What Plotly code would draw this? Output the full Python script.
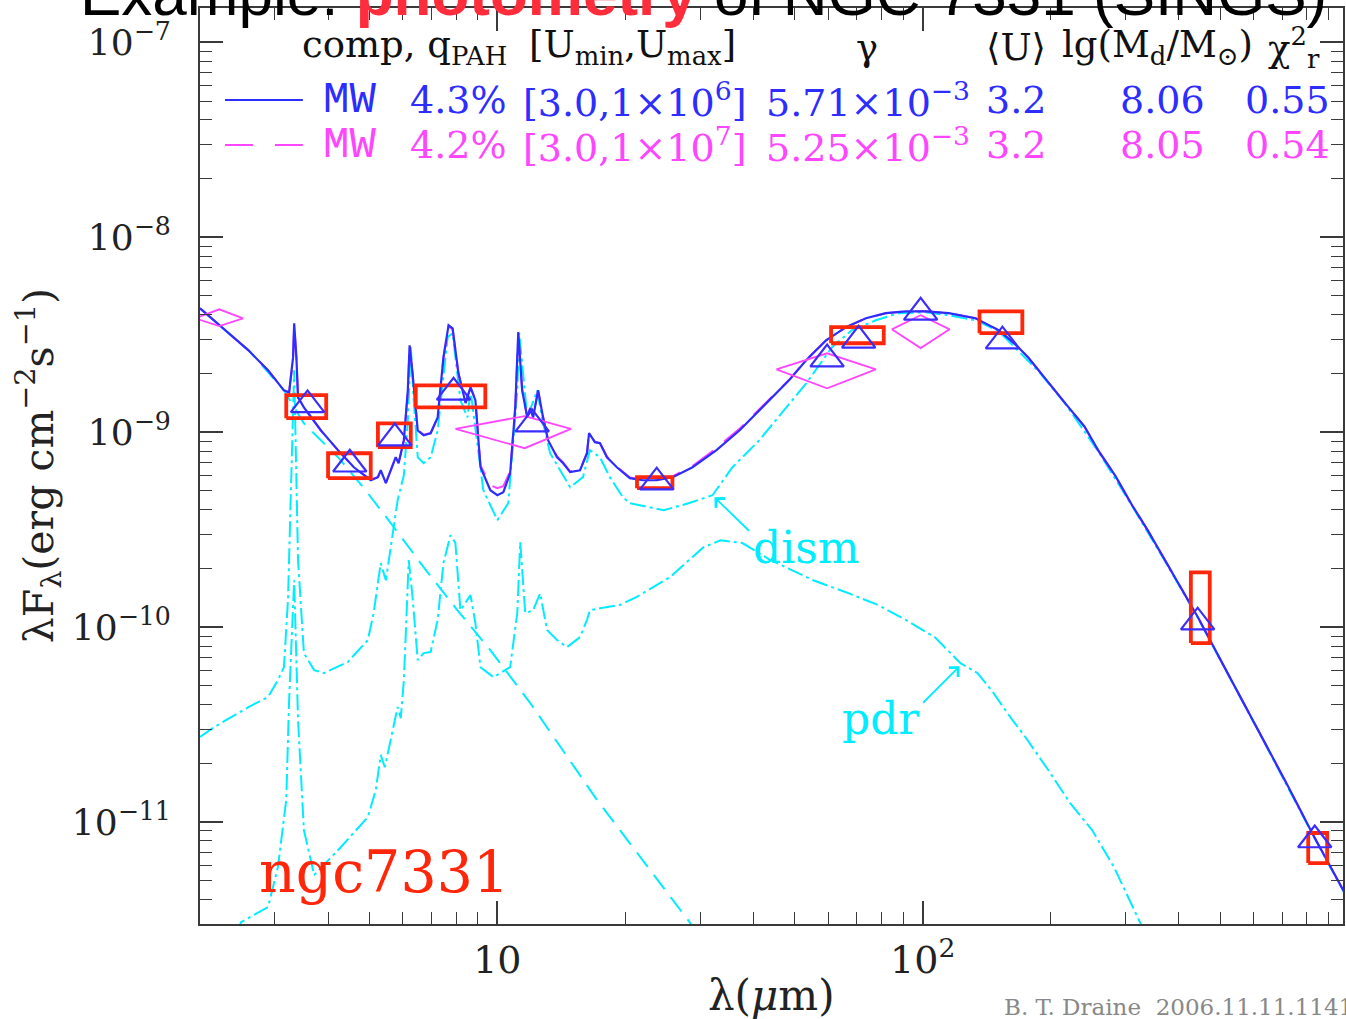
import numpy as np
import plotly.graph_objects as go

# ---------------- data ----------------
# total model 1 (blue, solid)
total_lam = [2.0, 2.25, 2.60, 2.89, 3.15, 3.24, 3.31, 3.33, 3.37, 3.40, 3.51, 3.85, 4.22, 4.60, 5.04,
             5.24, 5.32, 5.47, 5.62, 5.77, 5.86, 6.03, 6.16, 6.22, 6.32, 6.50, 6.71, 6.97, 7.24, 7.47,
             7.68, 7.85, 8.10, 8.42, 8.65, 8.88, 9.13, 9.63, 10.0, 10.33, 10.72, 11.02, 11.20, 11.44, 11.76,
             11.95, 12.14, 12.47, 12.81, 13.16, 13.82, 14.28, 14.83, 15.65, 16.25, 16.43, 16.96, 17.43, 18.10, 19.10,
             20.49, 21.98, 23.70, 25.84, 28.77, 32.75, 37.08, 42.89, 48.56, 53.21, 59.28, 66.03, 73.55, 81.91, 91.24,
             101.6, 115.1, 133.1, 150.7, 159.0, 167.8, 177.5, 187.0, 216.2, 240.0, 258.4, 284.0, 308.7, 339.0,
             370.8, 405.0, 443.0, 521.0, 612.0, 720.0, 828.0, 1000.0]
total_f = [4.32e-9, 3.46e-9, 2.63e-9, 2.08e-9, 1.64e-9, 1.60e-9, 2.42e-9, 3.62e-9, 2.42e-9, 1.51e-9,
           1.34e-9, 1.02e-9, 8.09e-10, 6.61e-10, 5.67e-10, 5.88e-10, 6.38e-10, 5.48e-10, 6.38e-10, 7.44e-10,
           6.93e-10, 9.10e-10, 1.64e-9, 2.79e-9, 2.01e-9, 1.02e-9, 9.65e-10, 9.88e-10, 1.19e-9, 2.42e-9,
           3.54e-9, 3.41e-9, 2.01e-9, 1.41e-9, 1.70e-9, 1.46e-9, 6.61e-10, 5.04e-10, 4.75e-10, 4.92e-10,
           6.16e-10, 1.34e-9, 3.26e-9, 1.64e-9, 1.19e-9, 1.33e-9, 1.19e-9, 1.64e-9, 1.19e-9, 9.10e-10,
           7.44e-10, 6.93e-10, 6.24e-10, 6.38e-10, 7.80e-10, 9.88e-10, 8.89e-10, 8.78e-10, 7.44e-10, 6.61e-10,
           5.81e-10, 5.67e-10, 5.67e-10, 5.88e-10, 6.61e-10, 8.09e-10, 1.02e-9, 1.41e-9, 1.85e-9, 2.34e-9,
           2.96e-9, 3.46e-9, 3.84e-9, 4.08e-9, 4.17e-9, 4.17e-9, 4.08e-9, 3.84e-9, 3.34e-9, 3.03e-9,
           2.73e-9, 2.40e-9, 2.08e-9, 1.41e-9, 1.07e-9, 8.09e-10, 5.95e-10, 4.32e-10, 3.11e-10,
           2.21e-10, 1.58e-10, 1.13e-10, 5.81e-11, 3.03e-11, 1.55e-11, 8.58e-12, 4.03e-12]

# total model 2 (magenta, dashed)
total2_lam = [2.0, 2.25, 2.60, 2.89, 3.15, 3.24, 3.31, 3.33, 3.37, 3.40, 3.51, 3.85, 4.22, 4.60, 5.04,
              5.24, 5.32, 5.47, 5.62, 5.77, 5.86, 6.03, 6.16, 6.22, 6.32, 6.50, 6.71, 6.97, 7.24, 7.47,
              7.68, 7.85, 8.10, 8.42, 8.65, 8.88, 9.13, 9.63, 10.0, 10.33, 10.72, 11.02, 11.20, 11.44, 11.76,
              11.95, 12.14, 12.47, 12.81, 13.16, 13.82, 14.28, 14.83, 15.65, 16.25, 16.43, 16.96, 17.43, 18.10, 19.10,
              20.49, 21.98, 23.70, 25.84, 28.77, 32.75, 37.08, 42.89, 48.56, 53.21, 59.28, 66.03, 73.55, 81.91, 91.24,
              101.6, 115.1, 133.1, 150.7, 159.0, 167.8, 177.5, 187.0, 216.2, 240.0, 258.4, 284.0, 308.7, 339.0,
              370.8, 405.0, 443.0, 521.0, 612.0, 720.0, 828.0, 1000.0]
total2_f = [4.32e-9, 3.46e-9, 2.63e-9, 2.08e-9, 1.64e-9, 1.60e-9, 2.40e-9, 3.55e-9, 2.40e-9, 1.51e-9,
            1.34e-9, 1.02e-9, 8.09e-10, 6.61e-10, 5.70e-10, 5.90e-10, 6.38e-10, 5.50e-10, 6.38e-10, 7.44e-10,
            6.95e-10, 9.10e-10, 1.62e-9, 2.75e-9, 2.01e-9, 1.03e-9, 9.70e-10, 9.90e-10, 1.19e-9, 2.40e-9,
            3.48e-9, 3.38e-9, 2.01e-9, 1.42e-9, 1.70e-9, 1.47e-9, 6.75e-10, 5.35e-10, 5.16e-10, 5.28e-10,
            6.30e-10, 1.34e-9, 3.20e-9, 1.64e-9, 1.20e-9, 1.33e-9, 1.20e-9, 1.64e-9, 1.20e-9, 9.15e-10,
            7.50e-10, 7.00e-10, 6.30e-10, 6.42e-10, 7.85e-10, 9.90e-10, 8.92e-10, 8.82e-10, 7.50e-10, 6.66e-10,
            5.86e-10, 5.72e-10, 5.72e-10, 5.95e-10, 6.70e-10, 8.30e-10, 1.04e-9, 1.43e-9, 1.86e-9, 2.35e-9,
            2.96e-9, 3.46e-9, 3.84e-9, 4.08e-9, 4.17e-9, 4.17e-9, 4.08e-9, 3.84e-9, 3.34e-9, 3.03e-9,
            2.73e-9, 2.40e-9, 2.08e-9, 1.41e-9, 1.07e-9, 8.09e-10, 5.95e-10, 4.32e-10, 3.11e-10,
            2.21e-10, 1.58e-10, 1.13e-10, 5.81e-11, 3.03e-11, 1.55e-11, 8.58e-12, 4.03e-12]

# stellar component (cyan, dashed)
star_lam = [2.0, 2.60, 3.15, 3.51, 4.22, 4.86, 5.71, 6.71, 8.06, 9.63, 11.95, 17.15, 28.3, 40.0]
star_f = [4.32e-9, 2.63e-9, 1.64e-9, 1.11e-9, 7.44e-10, 5.16e-10, 3.26e-10, 2.03e-10, 1.22e-10,
          7.62e-11, 4.08e-11, 1.30e-11, 3.07e-12, 1.1e-12]

# diffuse ISM dust component "dism" (cyan, dash-dot)
dism_lam = [2.0, 2.16, 2.60, 2.89, 3.05, 3.15, 3.22, 3.33, 3.40, 3.51, 3.71, 3.91, 4.45, 4.96, 5.12,
            5.32, 5.47, 5.68, 5.83, 6.03, 6.16, 6.26, 6.36, 6.50, 6.71, 6.97, 7.24, 7.64, 7.85, 8.19,
            8.51, 8.65, 8.88, 9.27, 10.0, 10.61, 11.14, 11.26, 11.76, 12.41, 12.81, 13.31, 14.05, 14.83, 15.90,
            16.51, 17.43, 18.39, 19.73, 20.49, 24.61, 28.16, 32.06, 35.70, 41.30, 47.78, 53.21, 61.23, 68.21, 77.6,
            87.85, 101.6, 115.1, 133.1, 150.7, 187.0, 216.2, 258.4, 308.7, 370.8, 443.0, 612.0, 828.0, 1000.0]
dism_f = [2.73e-11, 3.07e-11, 3.89e-11, 4.38e-11, 5.35e-11, 6.23e-11, 1.38e-10, 2.08e-9, 2.21e-10, 7.36e-11,
          6.02e-11, 5.81e-11, 6.62e-11, 8.58e-11, 1.18e-10, 2.13e-10, 1.74e-10, 3.14e-10, 4.48e-10, 6.02e-10,
          1.15e-9, 2.73e-9, 1.46e-9, 7.44e-10, 6.93e-10, 7.44e-10, 1.02e-9, 3.07e-9, 3.22e-9, 1.46e-9,
          1.19e-9, 1.64e-9, 1.02e-9, 5.04e-10, 3.54e-10, 4.32e-10, 1.64e-9, 3.22e-9, 1.19e-9, 1.64e-9,
          1.11e-9, 7.80e-10, 6.38e-10, 5.22e-10, 5.88e-10, 8.09e-10, 7.44e-10, 5.88e-10, 4.64e-10, 4.32e-10,
          3.98e-10, 4.32e-10, 4.75e-10, 6.61e-10, 9.10e-10, 1.34e-9, 1.78e-9, 2.73e-9, 3.34e-9, 3.75e-9,
          4.08e-9, 4.12e-9, 3.98e-9, 3.75e-9, 3.30e-9, 2.06e-9, 1.40e-9, 8.0e-10, 4.28e-10, 2.19e-10,
          1.12e-10, 3.0e-11, 8.5e-12, 4.0e-12]

# photodissociation-region dust component "pdr" (cyan, dash-dot)
pdr_lam = [2.30, 2.50, 2.89, 3.05, 3.19, 3.24, 3.33, 3.40, 3.51, 3.71, 4.29, 4.96, 5.18, 5.32, 5.44,
           5.68, 5.83, 5.93, 6.03, 6.12, 6.19, 6.32, 6.50, 6.71, 6.97, 7.24, 7.47, 7.76, 7.97, 8.19,
           8.51, 8.65, 8.88, 9.13, 9.79, 10.72, 11.14, 11.32, 11.63, 12.14, 12.61, 13.09, 13.82, 14.58, 15.65,
           16.25, 16.51, 17.43, 19.41, 21.28, 25.42, 28.3, 30.53, 33.47, 37.68, 43.83, 55.26, 67.11, 78.45, 91.24,
           106.7, 122.7, 134.5, 145.1, 162.5, 174.3, 197.3, 222.2, 250.1, 281.6, 325.8, 357.0]
pdr_f = [2.0e-12, 3.07e-12, 3.66e-12, 5.88e-12, 1.30e-11, 4.22e-11, 1.74e-10, 3.34e-11, 9.1e-12, 5.35e-12,
         7.45e-12, 1.06e-11, 1.46e-11, 2.21e-11, 1.91e-11, 2.96e-11, 3.89e-11, 3.41e-11, 5.35e-11, 1.18e-10,
         2.21e-10, 1.43e-10, 6.77e-11, 7.36e-11, 7.45e-11, 1.09e-10, 2.13e-10, 2.96e-10, 2.70e-10, 1.22e-10,
         1.38e-10, 1.46e-10, 1.05e-10, 6.23e-11, 5.54e-11, 6.23e-11, 1.18e-10, 2.73e-10, 1.18e-10, 1.22e-10,
         1.49e-10, 9.66e-11, 8.58e-11, 7.89e-11, 8.89e-11, 1.09e-10, 1.22e-10, 1.25e-10, 1.30e-10, 1.43e-10,
         1.80e-10, 2.21e-10, 2.57e-10, 2.79e-10, 2.70e-10, 2.21e-10, 1.74e-10, 1.49e-10, 1.30e-10, 1.09e-10,
         8.89e-11, 6.54e-11, 5.81e-11, 4.75e-11, 3.34e-11, 2.73e-11, 1.85e-11, 1.25e-11, 9.10e-12, 5.88e-12,
         3.03e-12, 1.96e-12]

# observed photometry (red boxes): band limits and flux range
rect_band = ["IRAC3.6", "IRAC4.5", "IRAC5.8", "IRAC8.0", "MIPS24", "MIPS70", "MIPS160", "SCUBA450", "SCUBA850"]
rect_lam_lo = [3.19, 4.00, 5.24, 6.43, 21.3, 60.9, 136.0, 427.0, 806.0]
rect_lam_hi = [3.96, 5.04, 6.26, 9.37, 25.8, 81.0, 171.5, 473.0, 893.0]
rect_f_lo = [1.18e-9, 5.81e-10, 8.38e-10, 1.34e-9, 5.16e-10, 2.86e-9, 3.22e-9, 8.28e-11, 6.16e-12]
rect_f_hi = [1.55e-9, 7.80e-10, 1.11e-9, 1.74e-9, 5.88e-10, 3.46e-9, 4.17e-9, 1.91e-10, 8.79e-12]

# other photometry (magenta diamonds): 2MASS Ks and IRAS
dia_band = ["Ks", "IRAS12", "IRAS60", "IRAS100"]
dia_lam_c = [2.22, 11.6, 59.6, 98.9]
dia_lam_lo = [1.95, 7.97, 45.3, 84.6]
dia_lam_hi = [2.525, 14.9, 77.6, 115.7]
dia_f = [3.84e-9, 1.04e-9, 2.10e-9, 3.37e-9]
dia_f_lo = [3.50e-9, 8.28e-10, 1.68e-9, 2.70e-9]
dia_f_hi = [4.27e-9, 1.21e-9, 2.54e-9, 3.98e-9]

# model band-averaged fluxes (blue triangles)
tri_lam = [3.58, 4.50, 5.74, 7.89, 12.08, 23.7, 59.6, 70.7, 98.9, 154.0, 443.0, 835.0]
tri_f = [1.38e-9, 6.85e-10, 9.32e-10, 1.60e-9, 1.10e-9, 5.54e-10, 2.37e-9, 2.96e-9, 4.12e-9, 2.93e-9,
         1.06e-10, 8.09e-12]

# axis ticks
x_major = [10, 100]
x_ticktext = ["10", "10<sup>2</sup>"]
x_minor = [3, 4, 5, 6, 7, 8, 9, 20, 30, 40, 50, 60, 70, 80, 90, 200, 300, 400, 500, 600, 700, 800, 900]
y_major = [1e-11, 1e-10, 1e-9, 1e-8, 1e-7]
y_ticktext = ["10<sup>−11</sup>", "10<sup>−10</sup>", "10<sup>−9</sup>", "10<sup>−8</sup>", "10<sup>−7</sup>"]
y_minor = [m * 10.0 ** e for e in range(-12, -7) for m in range(2, 10) if 3e-12 <= m * 10.0 ** e <= 1.5e-7]

# legend table
hdr_cols = ["comp, q<sub>PAH</sub>", "[U<sub>min</sub>,U<sub>max</sub>]", "γ", "⟨U⟩",
            "lg(M<sub>d</sub>/M<sub>⊙</sub>)", "χ<sup>2</sup><sub>r</sub>"]
row1 = ["MW", "4.3%", "[3.0,1×10<sup>6</sup>]", "5.71×10<sup>−3</sup>", "3.2", "8.06", "0.55"]
row2 = ["MW", "4.2%", "[3.0,1×10<sup>7</sup>]", "5.25×10<sup>−3</sup>", "3.2", "8.05", "0.54"]

# ---------------- styling / geometry ----------------
W, H = 1346, 1019
PL, PR, PT, PB = 200, 1345, 8, 924
SERIF = "DejaVu Serif"
SANS = "Liberation Sans"
MONO = "Liberation Mono"
BLUE = "rgb(45,45,255)"
MAG = "rgb(255,70,255)"
CYAN = "rgb(0,236,255)"
RED = "rgb(255,38,10)"
AX = "#3a3a3a"


def px(x):
    return (x - PL) / (PR - PL)


def py(y):
    return (PB - y) / (PB - PT)


fig = go.Figure()

dd = "16px,4px,3px,4px"
fig.add_trace(go.Scatter(x=pdr_lam, y=pdr_f, mode="lines",
                         line=dict(color=CYAN, width=2.0, dash=dd), hoverinfo="skip"))
fig.add_trace(go.Scatter(x=dism_lam, y=dism_f, mode="lines",
                         line=dict(color=CYAN, width=2.0, dash=dd), hoverinfo="skip"))
fig.add_trace(go.Scatter(x=star_lam, y=star_f, mode="lines",
                         line=dict(color=CYAN, width=2.0, dash="18px,10px"), hoverinfo="skip"))
fig.add_trace(go.Scatter(x=total2_lam, y=total2_f, mode="lines",
                         line=dict(color=MAG, width=2.0, dash="26px,14px"), hoverinfo="skip"))
fig.add_trace(go.Scatter(x=total_lam, y=total_f, mode="lines",
                         line=dict(color=BLUE, width=2.2), hoverinfo="skip"))

# diamonds
dx, dy = [], []
for lo, c, hi, f, flo, fhi in zip(dia_lam_lo, dia_lam_c, dia_lam_hi, dia_f, dia_f_lo, dia_f_hi):
    dx += [lo, c, hi, c, lo, None]
    dy += [f, fhi, f, flo, f, None]
fig.add_trace(go.Scatter(x=dx, y=dy, mode="lines", line=dict(color=MAG, width=1.8), hoverinfo="skip"))

# boxes
rx, ry = [], []
for lo, hi, flo, fhi in zip(rect_lam_lo, rect_lam_hi, rect_f_lo, rect_f_hi):
    rx += [lo, hi, hi, lo, lo, None]
    ry += [flo, flo, fhi, fhi, flo, None]
fig.add_trace(go.Scatter(x=rx, y=ry, mode="lines", line=dict(color=RED, width=3.8), hoverinfo="skip"))

# triangles
fig.add_trace(go.Scatter(x=tri_lam, y=tri_f, mode="markers",
                         marker=dict(symbol="triangle-up-open", size=29, color="rgb(60,45,255)",
                                     line=dict(width=2.2)),
                         hoverinfo="skip"))

ann = []


def txt(s, x, y, size, color="#111", family=SERIF, xanchor="left", yanchor="middle", angle=0):
    ann.append(dict(text=s, x=px(x), y=py(y), xref="paper", yref="paper", showarrow=False,
                    xanchor=xanchor, yanchor=yanchor, textangle=angle,
                    font=dict(family=family, size=size, color=color)))


# title (partly cut off at top)
txt("Example: <b><span style='color:rgb(255,45,60)'>photometry</span></b> of NGC 7331 (SINGS)",
    78, -6, 62, color="#000", family=SANS)

# legend table
hdr_x = [300, 528, 855, 985, 1062, 1268]
for s, x in zip(hdr_cols, hdr_x):
    txt(s, x, 47, 37, color="#111")
row_x = [325, 408, 522, 765, 985, 1120, 1245]
for i, (s1, s2, x) in enumerate(zip(row1, row2, row_x)):
    fam = MONO if i == 0 else SERIF
    sz = 44 if i == 0 else 38
    txt(s1, x - (4 if i == 0 else 0), 100, sz, color=BLUE, family=fam)
    txt(s2, x - (4 if i == 0 else 0), 145, sz, color=MAG, family=fam)

# axis titles and labels
txt("λ(<i>μ</i>m)", 772, 995, 42, color="#222", xanchor="center")
txt("λF<sub>λ</sub>(erg cm<sup>−2</sup>s<sup>−1</sup>)", 38, 466, 41, color="#222",
    xanchor="center", angle=-90)
txt("ngc7331", 384, 872, 57, color=RED, xanchor="center")
txt("dism", 808, 548, 44, color=CYAN, xanchor="center")
txt("pdr", 882, 718, 44, color=CYAN, xanchor="center")
txt("B. T. Draine  2006.11.11.1141", 1003, 1007, 23, color="#888", family=SERIF)

# arrows pointing at the components
ann.append(dict(x=np.log10(32.4), y=np.log10(4.64e-10), xref="x", yref="y", text="", showarrow=True,
                ax=36, ay=35, arrowhead=4, arrowsize=1.4, arrowwidth=1.8, arrowcolor=CYAN, standoff=0))
ann.append(dict(x=np.log10(122.1), y=np.log10(6.3e-11), xref="x", yref="y", text="", showarrow=True,
                ax=-38, ay=38, arrowhead=4, arrowsize=1.4, arrowwidth=1.8, arrowcolor=CYAN, standoff=0))

shapes = [
    dict(type="line", xref="paper", yref="paper", x0=px(225), x1=px(303), y0=py(100), y1=py(100),
         line=dict(color=BLUE, width=2)),
    dict(type="line", xref="paper", yref="paper", x0=px(225), x1=px(303), y0=py(145), y1=py(145),
         line=dict(color=MAG, width=2, dash="28px,22px")),
]

fig.update_layout(
    width=W, height=H,
    margin=dict(l=PL, r=W - PR, t=PT, b=H - PB, pad=0),
    paper_bgcolor="white", plot_bgcolor="white",
    showlegend=False,
    annotations=ann, shapes=shapes,
    xaxis=dict(type="log", range=[np.log10(2.0), np.log10(973.0)],
               showline=True, linecolor=AX, linewidth=2, mirror="allticks",
               ticks="inside", ticklen=23, tickwidth=1.6, tickcolor=AX,
               tickmode="array", tickvals=x_major, ticktext=x_ticktext,
               tickfont=dict(family=SERIF, size=38, color="#222"),
               showgrid=False, zeroline=False, ticklabelstandoff=1,
               minor=dict(tickmode="array", tickvals=x_minor, ticks="inside", ticklen=12,
                          tickwidth=1.4, tickcolor=AX, showgrid=False)),
    yaxis=dict(type="log", range=[np.log10(3e-12), np.log10(1.5e-7)],
               showline=True, linecolor=AX, linewidth=2, mirror="allticks",
               ticks="inside", ticklen=23, tickwidth=1.6, tickcolor=AX,
               tickmode="array", tickvals=y_major, ticktext=y_ticktext,
               tickfont=dict(family=SERIF, size=36, color="#222"),
               showgrid=False, zeroline=False, ticklabelstandoff=20,
               minor=dict(tickmode="array", tickvals=y_minor, ticks="inside", ticklen=12,
                          tickwidth=1.4, tickcolor=AX, showgrid=False)),
)

fig.write_html("out.html", config={"displayModeBar": False},
               post_script="document.body.style.margin='0px';document.body.style.overflow='hidden';")
